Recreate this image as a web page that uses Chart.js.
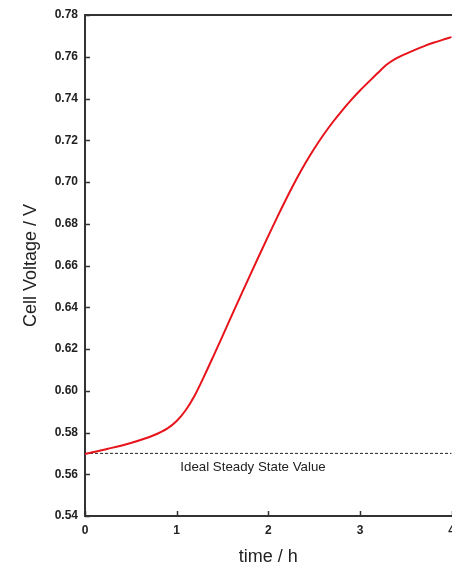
<!DOCTYPE html>
<html>
<head>
<meta charset="utf-8">
<script src="https://cdn.jsdelivr.net/npm/chart.js@4.4.1/dist/chart.umd.min.js"></script>
<style>
  html, body { margin: 0; padding: 0; background: #fff; overflow: hidden; }
  #wrap { width: 462px; height: 568px; }
</style>
</head>
<body>
<div id="wrap"><canvas id="c" width="462" height="568"></canvas></div>
<script>
// Cell voltage during start-up, time in hours
const timeH = [0, 0.25, 0.5, 0.75, 0.9, 1.0, 1.1, 1.2, 1.3, 1.4, 1.5, 1.6, 1.7, 1.8, 1.9,
               2.0, 2.1, 2.2, 2.3, 2.4, 2.5, 2.6, 2.7, 2.8, 2.9, 3.0, 3.1, 3.2, 3.3, 3.4, 3.5,
               3.6, 3.7, 3.8, 3.9, 4.0];
const voltage = [0.5697, 0.5722, 0.5750, 0.5787, 0.5820, 0.5855, 0.5908, 0.5980, 0.6070, 0.6165,
                 0.6262, 0.6360, 0.6457, 0.6553, 0.6648, 0.6742, 0.6834, 0.6923, 0.7008, 0.7087,
                 0.7159, 0.7225, 0.7285, 0.7340, 0.7391, 0.7438, 0.7482, 0.7525, 0.7565, 0.7593,
                 0.7614, 0.7633, 0.7651, 0.7667, 0.7681, 0.7694];

// Ideal steady state reference
const idealValue = 0.57;
const idealLabel = 'Ideal Steady State Value';
const idealLabelAt = { x: 1.04, y: 0.5635 };

// Axis ranges and titles
const xRange = [0, 4];
const yRange = [0.54, 0.78];
const yStep = 0.02;
const xTitle = 'time / h';
const yTitle = 'Cell Voltage / V';

const axisColor = '#333';
const textColor = '#222';
const fontFamily = '"Liberation Sans", Arial, sans-serif';

const framePlugin = {
  id: 'frame',
  afterDatasetsDraw(chart) {
    const { ctx, chartArea: a, scales: { x, y } } = chart;
    ctx.save();
    ctx.strokeStyle = axisColor;
    ctx.lineWidth = 2;
    // top edge of the frame
    ctx.beginPath();
    ctx.moveTo(a.left - 1, a.top);
    ctx.lineTo(a.right + 1, a.top);
    ctx.stroke();
    // inward tick marks
    ctx.lineWidth = 1.5;
    ctx.beginPath();
    y.ticks.forEach(t => {
      const py = Math.round(y.getPixelForValue(t.value)) + 0.5;
      ctx.moveTo(a.left, py);
      ctx.lineTo(a.left + 5, py);
    });
    x.ticks.forEach(t => {
      const px = Math.round(x.getPixelForValue(t.value)) + 0.5;
      ctx.moveTo(px, a.bottom);
      ctx.lineTo(px, a.bottom - 5);
    });
    ctx.stroke();
    // label under the dashed reference line
    ctx.fillStyle = textColor;
    ctx.font = '13.3px ' + fontFamily;
    ctx.textAlign = 'left';
    ctx.textBaseline = 'middle';
    ctx.fillText(idealLabel, x.getPixelForValue(idealLabelAt.x), y.getPixelForValue(idealLabelAt.y));
    ctx.restore();
  }
};

new Chart(document.getElementById('c'), {
  type: 'scatter',
  data: {
    datasets: [
      {
        data: timeH.map((t, i) => ({ x: t, y: voltage[i] })),
        showLine: true,
        borderColor: '#e8141c',
        borderWidth: 2,
        pointRadius: 0,
        cubicInterpolationMode: 'monotone',
        order: 0
      },
      {
        data: [{ x: xRange[0], y: idealValue }, { x: xRange[1], y: idealValue }],
        showLine: true,
        borderColor: '#222',
        borderWidth: 1,
        borderDash: [3, 2],
        pointRadius: 0,
        order: 1
      }
    ]
  },
  options: {
    responsive: false,
    animation: false,
    layout: { padding: { left: 0, top: 15, right: 4, bottom: 0 } },
    plugins: { legend: { display: false }, tooltip: { enabled: false } },
    scales: {
      x: {
        type: 'linear',
        min: xRange[0],
        max: xRange[1],
        afterFit(s) { s.height = 52; },
        grid: { display: false, drawTicks: false },
        border: { display: true, color: axisColor, width: 2 },
        ticks: {
          stepSize: 1,
          padding: 7,
          color: textColor,
          font: { family: fontFamily, size: 12, weight: 'bold' },
          maxRotation: 0
        },
        title: {
          display: true,
          text: xTitle,
          color: textColor,
          font: { family: fontFamily, size: 18 },
          padding: { top: 0, bottom: 0 }
        }
      },
      y: {
        type: 'linear',
        min: yRange[0],
        max: yRange[1],
        afterFit(s) { s.width = 85; },
        grid: { display: false, drawTicks: false },
        border: { display: true, color: axisColor, width: 2 },
        ticks: {
          stepSize: yStep,
          padding: 7,
          color: textColor,
          font: { family: fontFamily, size: 12, weight: 'bold' },
          callback: v => v.toFixed(2)
        },
        title: {
          display: true,
          text: yTitle,
          color: textColor,
          font: { family: fontFamily, size: 18 },
          padding: { top: 20, bottom: 0 }
        }
      }
    }
  },
  plugins: [framePlugin]
});
</script>
</body>
</html>
